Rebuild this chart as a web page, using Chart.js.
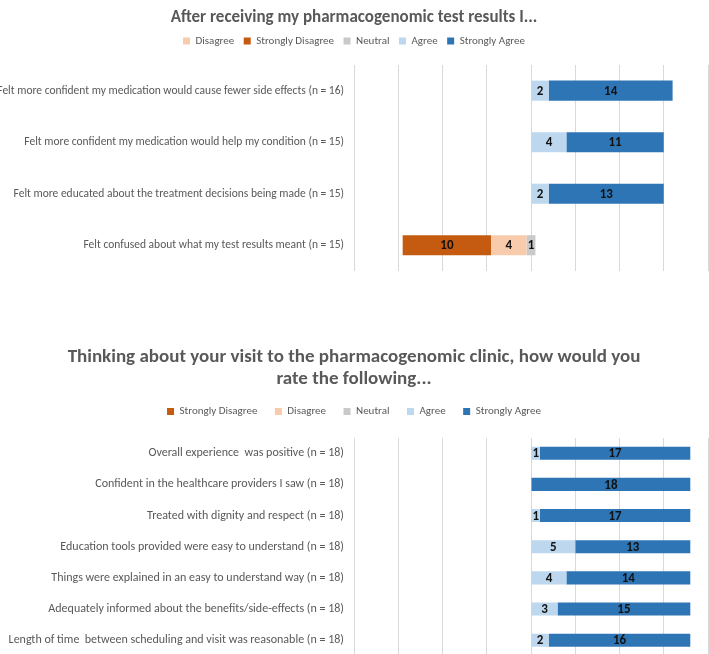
<!DOCTYPE html>
<html>
<head>
<meta charset="utf-8">
<script src="https://cdn.jsdelivr.net/npm/chart.js@4.4.1/dist/chart.umd.min.js"></script>
<style>
  html, body { margin: 0; padding: 0; background: #fff; }
  #wrap { position: relative; width: 709px; height: 654px; overflow: hidden; }
  #c1 { position: absolute; left: 0; top: 0; }
  #c2 { position: absolute; left: 0; top: 320px; }
</style>
</head>
<body>
<div id="wrap">
  <canvas id="c1" width="709" height="290"></canvas>
  <canvas id="c2" width="709" height="353"></canvas>
</div>
<script>
// ---- top chart data ----
const resultsLabels = [
  'Felt more confident my medication would cause fewer side effects (n = 16)',
  'Felt more confident my medication would help my condition (n = 15)',
  'Felt more educated about the treatment decisions being made (n = 15)',
  'Felt confused about what my test results meant (n = 15)'
];
const resultsStronglyDisagree = [0, 0, 0, 10];
const resultsDisagree = [0, 0, 0, 4];
const resultsNeutral = [0, 0, 0, 1];
const resultsAgree = [2, 4, 2, 0];
const resultsStronglyAgree = [14, 11, 13, 0];

// ---- bottom chart data ----
const visitLabels = [
  'Overall experience  was positive (n = 18)',
  'Confident in the healthcare providers I saw (n = 18)',
  'Treated with dignity and respect (n = 18)',
  'Education tools provided were easy to understand (n = 18)',
  'Things were explained in an easy to understand way (n = 18)',
  'Adequately informed about the benefits/side-effects (n = 18)',
  'Length of time  between scheduling and visit was reasonable (n = 18)'
];
const visitStronglyDisagree = [0, 0, 0, 0, 0, 0, 0];
const visitDisagree = [0, 0, 0, 0, 0, 0, 0];
const visitNeutral = [0, 0, 0, 0, 0, 0, 0];
const visitAgree = [1, 0, 1, 5, 4, 3, 2];
const visitStronglyAgree = [17, 18, 17, 13, 14, 15, 16];

const COLORS = {
  sd: '#C55A11',
  d: '#F8CBAD',
  n: '#C9C9C9',
  a: '#BDD7EE',
  sa: '#2E75B6'
};
const NARROW = '"Liberation Sans Narrow", "Arial Narrow", Carlito, sans-serif';

// diverging layout: neutral is split around zero
function buildSpans(sd, d, n, a, sa) {
  const out = { sd: [], d: [], n: [], a: [], sa: [] };
  for (let i = 0; i < sd.length; i++) {
    const h = n[i] / 2;
    out.n.push(n[i] ? [-h, h] : null);
    out.d.push(d[i] ? [-h - d[i], -h] : null);
    out.sd.push(sd[i] ? [-h - d[i] - sd[i], -h - d[i]] : null);
    out.a.push(a[i] ? [h, h + a[i]] : null);
    out.sa.push(sa[i] ? [h + a[i], h + a[i] + sa[i]] : null);
  }
  return out;
}

function ds(label, key, spans, counts) {
  return {
    label: label,
    data: spans[key],
    counts: counts,
    backgroundColor: COLORS[key],
    borderWidth: 0,
    grouped: false
  };
}

const valueLabels = {
  id: 'valueLabels',
  afterDatasetsDraw(chart) {
    const ctx = chart.ctx;
    ctx.save();
    ctx.font = 'bold 13px ' + NARROW;
    ctx.fillStyle = '#111';
    ctx.textAlign = 'center';
    ctx.textBaseline = 'middle';
    chart.data.datasets.forEach((d, i) => {
      const meta = chart.getDatasetMeta(i);
      meta.data.forEach((bar, j) => {
        const v = d.counts[j];
        if (!v) return;
        const p = bar.getCenterPoint();
        ctx.fillText(String(v), p.x, p.y + 1);
      });
    });
    ctx.restore();
  }
};

function makeOptions(cfg) {
  return {
    responsive: false,
    animation: false,
    indexAxis: 'y',
    categoryPercentage: cfg.barFrac,
    barPercentage: 1,
    layout: { padding: { left: 0, right: 1, top: 0, bottom: cfg.bottomPad } },
    plugins: {
      title: {
        display: true,
        text: cfg.title,
        color: '#595959',
        font: { family: NARROW, size: cfg.titleSize, weight: 'bold', lineHeight: 1.2 },
        padding: { top: cfg.titleTop, bottom: -2.5 }
      },
      legend: {
        display: true,
        labels: {
          boxWidth: 7,
          boxHeight: 7,
          padding: cfg.legendPad,
          color: '#595959',
          font: { family: NARROW, size: 11 }
        }
      },
      tooltip: { enabled: false }
    },
    scales: {
      x: {
        position: 'top',
        min: -20,
        max: 20,
        ticks: { display: false, stepSize: 5 },
        grid: { color: '#D9D9D9', drawTicks: false },
        border: { display: false },
        afterFit: (s) => { s.height = cfg.gapAbove; }
      },
      y: {
        ticks: { color: '#595959', font: { family: NARROW, size: cfg.labelSize }, padding: 10 },
        grid: { display: false, drawTicks: false },
        border: { display: false },
        afterFit: (s) => { s.width = 354; }
      }
    }
  };
}

const topSpans = buildSpans(resultsStronglyDisagree, resultsDisagree, resultsNeutral, resultsAgree, resultsStronglyAgree);
new Chart(document.getElementById('c1'), {
  type: 'bar',
  data: {
    labels: resultsLabels,
    datasets: [
      ds('Disagree', 'd', topSpans, resultsDisagree),
      ds('Strongly Disagree', 'sd', topSpans, resultsStronglyDisagree),
      ds('Neutral', 'n', topSpans, resultsNeutral),
      ds('Agree', 'a', topSpans, resultsAgree),
      ds('Strongly Agree', 'sa', topSpans, resultsStronglyAgree)
    ]
  },
  options: makeOptions({
    title: 'After receiving my pharmacogenomic test results I...',
    titleSize: 17, titleTop: 8, legendPad: 9.5, gapAbove: 8.5, barFrac: 0.39, bottomPad: 19, labelSize: 11.5
  }),
  plugins: [valueLabels]
});

const botSpans = buildSpans(visitStronglyDisagree, visitDisagree, visitNeutral, visitAgree, visitStronglyAgree);
new Chart(document.getElementById('c2'), {
  type: 'bar',
  data: {
    labels: visitLabels,
    datasets: [
      ds('Strongly Disagree', 'sd', botSpans, visitStronglyDisagree),
      ds('Disagree', 'd', botSpans, visitDisagree),
      ds('Neutral', 'n', botSpans, visitNeutral),
      ds('Agree', 'a', botSpans, visitAgree),
      ds('Strongly Agree', 'sa', botSpans, visitStronglyAgree)
    ]
  },
  options: makeOptions({
    title: ['Thinking about your visit to the pharmacogenomic clinic, how would you', 'rate the following...'],
    titleSize: 19, titleTop: 25.5, legendPad: 17.5, gapAbove: 10.5, barFrac: 0.42, bottomPad: 0, labelSize: 12
  }),
  plugins: [valueLabels]
});
</script>
</body>
</html>
